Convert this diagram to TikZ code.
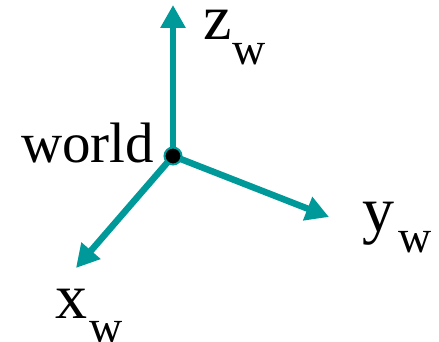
\documentclass[tikz,border=0pt]{standalone}
\usepackage{fontspec}
\setmainfont{Liberation Serif}
\usetikzlibrary{arrows.meta}
\definecolor{axisteal}{RGB}{0,153,153}
\newcommand{\axlabel}[3]{{\fontsize{64}{64}\selectfont #1}\kern#3\raisebox{-#2}{\fontsize{46}{46}\selectfont w}}
\begin{document}
\begin{tikzpicture}[x=1pt,y=-1pt,
  axis/.style={draw=axisteal,line width=6.5pt,-{Triangle[length=23pt,width=24pt]}},
  lab/.style={inner sep=0pt,anchor=base west}]
\useasboundingbox (0,0) rectangle (439,342);
\coordinate (o) at (173,156);
\coordinate (zt) at (173,5);
\coordinate (yt) at (329,217);
\coordinate (xt) at (76,268);
\draw[axis] (o) -- (zt);
\draw[axis] (o) -- (yt);
\draw[axis] (o) -- (xt);
\node[circle,fill=black,draw=axisteal,line width=2pt,minimum size=17pt,inner sep=0pt] (dot) at (o) {};
\node[lab] (zl) at (203,40) {\axlabel{z}{25pt}{1pt}};
\node[lab] (yl) at (362,231) {\axlabel{y}{21pt}{4pt}};
\node[lab] (xl) at (55,318) {\axlabel{x}{24pt}{2pt}};
\node[lab] (wl) at (21,163) {\fontsize{57}{57}\selectfont world};
\end{tikzpicture}
\end{document}
